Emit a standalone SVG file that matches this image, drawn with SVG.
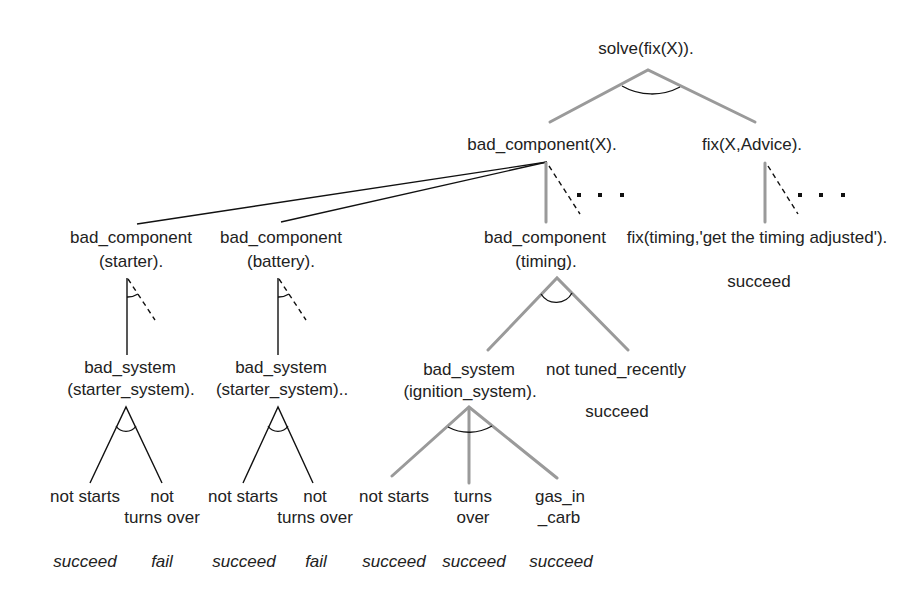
<svg xmlns="http://www.w3.org/2000/svg" width="914" height="593" viewBox="0 0 914 593">
<style>
text{font-family:"Liberation Sans",Arial,sans-serif;font-size:17px;fill:#222;text-anchor:middle}
.it{font-style:italic}
.g{stroke:#9a9a9a;stroke-width:3;fill:none;stroke-linecap:round}
.k{stroke:#111;stroke-width:1.4;fill:none}
.d{stroke:#111;stroke-width:1.4;fill:none;stroke-dasharray:5 4}
.a{stroke:#111;stroke-width:1.3;fill:none}
.dot{fill:#111}
</style>
<rect width="914" height="593" fill="#fff"/>
<g id="connectors">
  <!-- solve -> children -->
  <path class="g" d="M550,122 L648,70 L755,122"/>
  <path class="a" d="M622,86 A60,60 0 0 0 680,87"/>
  <!-- bad_component(X) -> children -->
  <line class="k" x1="547" y1="162" x2="137" y2="224"/>
  <line class="k" x1="547" y1="162" x2="281" y2="222"/>
  <line class="g" x1="546" y1="163" x2="546" y2="222"/>
  <line class="d" x1="549" y1="166" x2="580" y2="214"/>
  <rect class="dot" x="577" y="193" width="4" height="4"/>
  <rect class="dot" x="598" y="193" width="4" height="4"/>
  <rect class="dot" x="620" y="193" width="4" height="4"/>
  <!-- fix(X,Advice) -> child -->
  <line class="g" x1="765" y1="163" x2="765" y2="222"/>
  <line class="d" x1="768" y1="166" x2="798" y2="214"/>
  <rect class="dot" x="798" y="193" width="4" height="4"/>
  <rect class="dot" x="819" y="193" width="4" height="4"/>
  <rect class="dot" x="841" y="193" width="4" height="4"/>
  <!-- starter -> bad_system -->
  <line class="k" x1="127" y1="278" x2="127" y2="355"/>
  <line class="d" x1="128" y1="279" x2="155" y2="320"/>
  <path class="a" d="M127,297 A19,19 0 0 0 138,294"/>
  <!-- battery -> bad_system -->
  <line class="k" x1="278" y1="278" x2="278" y2="355"/>
  <line class="d" x1="279" y1="279" x2="306" y2="320"/>
  <path class="a" d="M278,297 A19,19 0 0 0 289,294"/>
  <!-- starter_system AND -->
  <path class="k" d="M90,483 L126,407 L162,483"/>
  <path class="a" d="M116,426 A12,12 0 0 0 136,426"/>
  <path class="k" d="M243,483 L278,407 L313,483"/>
  <path class="a" d="M268,426 A12,12 0 0 0 288,426"/>
  <!-- timing AND -->
  <path class="g" d="M488,350 L557,278 L628,350"/>
  <path class="a" d="M541,294 A18,18 0 0 0 572,293"/>
  <!-- ignition AND -->
  <path class="g" d="M392,476 L469,407 L557,478"/>
  <line class="g" x1="469" y1="408" x2="469" y2="483"/>
  <path class="a" d="M448,427 A45,45 0 0 0 492,426"/>
</g>
<g id="n-solve"><text x="646" y="54">solve(fix(X)).</text></g>
<g id="n-badcompX"><text x="542" y="150">bad_component(X).</text></g>
<g id="n-fixXA"><text x="752" y="150">fix(X,Advice).</text></g>
<g id="n-bc-starter"><text x="131" y="243">bad_component</text><text x="131" y="267">(starter).</text></g>
<g id="n-bc-battery"><text x="281" y="243">bad_component</text><text x="281" y="267">(battery).</text></g>
<g id="n-bc-timing"><text x="545" y="243">bad_component</text><text x="546" y="267">(timing).</text></g>
<g id="n-fix-timing"><text x="757" y="243">fix(timing,'get the timing adjusted').</text><text x="759" y="287">succeed</text></g>
<g id="n-bs-starter1"><text x="130" y="373">bad_system</text><text x="131" y="395">(starter_system).</text></g>
<g id="n-bs-starter2"><text x="281" y="373">bad_system</text><text x="282" y="395">(starter_system)..</text></g>
<g id="n-bs-ignition"><text x="469" y="375">bad_system</text><text x="470" y="397">(ignition_system).</text></g>
<g id="n-not-tuned"><text x="616" y="375">not tuned_recently</text><text x="617" y="417">succeed</text></g>
<g id="n-ns1"><text x="85" y="502">not starts</text><text class="it" x="85" y="567">succeed</text></g>
<g id="n-nt1"><text x="162" y="502">not</text><text x="162" y="523">turns over</text><text class="it" x="162" y="567">fail</text></g>
<g id="n-ns2"><text x="243" y="502">not starts</text><text class="it" x="244" y="567">succeed</text></g>
<g id="n-nt2"><text x="315" y="502">not</text><text x="315" y="523">turns over</text><text class="it" x="316" y="567">fail</text></g>
<g id="n-ns3"><text x="394" y="502">not starts</text><text class="it" x="394" y="567">succeed</text></g>
<g id="n-to3"><text x="473" y="502">turns</text><text x="473" y="523">over</text><text class="it" x="474" y="567">succeed</text></g>
<g id="n-gas"><text x="560" y="502">gas_in</text><text x="559" y="523">_carb</text><text class="it" x="561" y="567">succeed</text></g>
</svg>
